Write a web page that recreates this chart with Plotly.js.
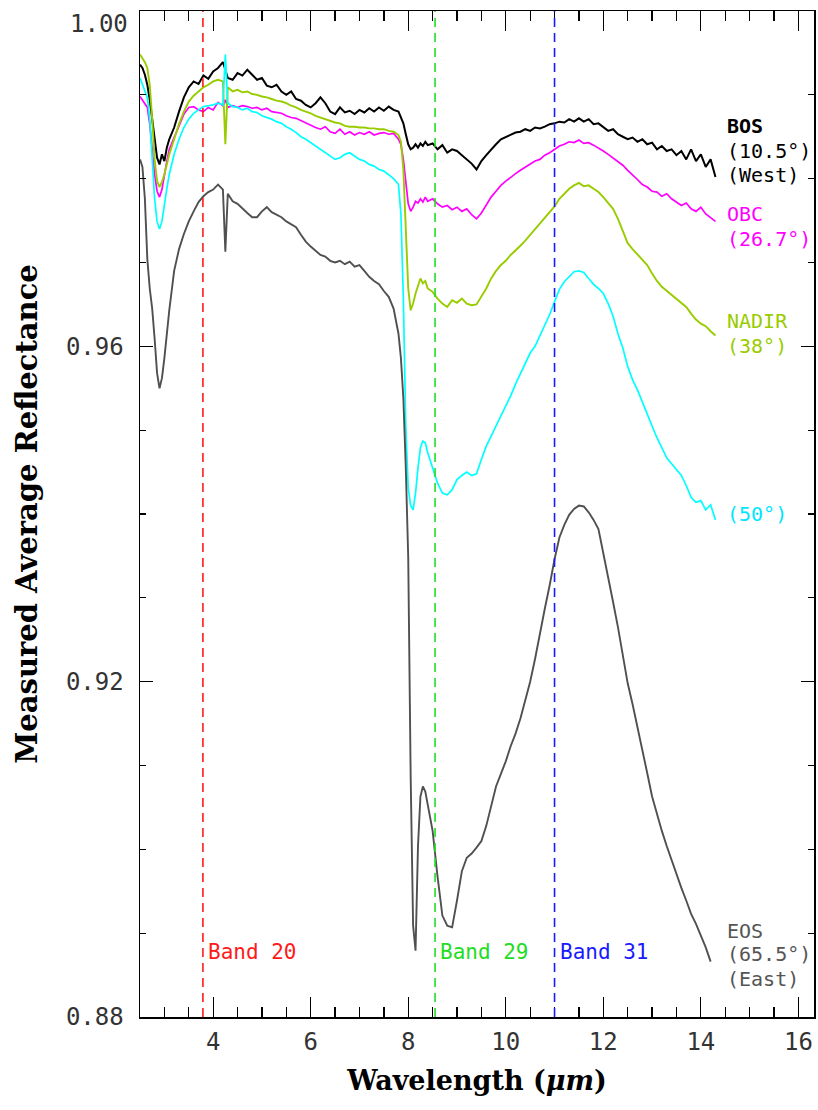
<!DOCTYPE html>
<html>
<head>
<meta charset="utf-8">
<script src="https://cdn.plot.ly/plotly-3.0.1.min.js"></script>
<style>html,body{margin:0;padding:0;background:#fff;}#chart{width:818px;height:1110px;}</style>
</head>
<body>
<div id="chart"></div>
<script>
// Wavelength grid (micrometres)
const wavelength = [2.50,2.55,2.60,2.65,2.70,2.75,2.80,2.85,2.90,2.95,3.00,3.05,3.10,
  3.2,3.3,3.4,3.5,3.6,3.7,3.8,3.9,4.0,4.1,4.2,4.25,4.3,4.4,4.5,4.6,4.7,4.8,4.9,5.0,
  5.1,5.2,5.3,5.4,5.5,5.6,5.7,5.8,5.9,6.0,6.1,6.2,6.3,6.4,6.5,6.6,6.7,6.8,6.9,7.0,
  7.1,7.2,7.3,7.4,7.5,7.6,7.7,7.8,
  7.85,7.90,7.95,8.00,8.05,8.10,8.15,8.20,8.25,8.30,8.35,8.40,
  8.5,8.6,8.7,8.8,8.9,9.0,9.1,9.2,9.3,9.4,9.5,9.6,9.7,9.8,9.9,10.0,10.1,10.2,10.3,10.4,
  10.5,10.6,10.7,10.8,10.9,11.0,11.1,11.2,11.3,11.4,11.5,11.6,11.7,11.8,11.9,12.0,12.1,12.2,12.3,12.4,
  12.5,12.6,12.7,12.8,12.9,13.0,13.1,13.2,13.3,13.4,13.5,13.6,13.7,13.8,13.9,14.0,14.1,14.2,14.3];

// BOS (10.5 deg, West)
const bos = [0.9936,0.9932,0.9924,0.9912,0.9894,0.9873,0.9847,0.9825,0.9817,0.9829,0.9821,0.9837,0.9847,
  0.9861,0.9880,0.9897,0.9909,0.9916,0.9913,0.9923,0.9919,0.9928,0.9932,0.9939,0.9930,
  0.9920,0.9918,0.9926,0.9923,0.9930,0.9924,0.9918,0.9920,0.9911,0.9909,0.9912,0.9904,0.9900,0.9904,0.9895,0.9893,
  0.9888,0.9885,0.9890,0.9897,0.9890,0.9880,0.9877,0.9885,0.9879,0.9881,0.9877,0.9882,0.9879,0.9884,0.9880,0.9885,
  0.9881,0.9886,0.9882,0.9880,
  0.9873,0.9866,0.9853,0.9841,0.9835,0.9837,0.9841,0.9837,0.9842,0.9839,0.9844,0.9840,
  0.9842,0.9835,0.9840,0.9831,0.9835,0.9833,0.9828,0.9823,0.9818,0.9811,
  0.9821,0.9828,0.9835,0.9841,0.9847,0.9850,0.9852,0.9855,0.9856,0.9859,
  0.9857,0.9861,0.9860,0.9862,0.9865,0.9866,0.9868,0.9867,0.9871,0.9868,
  0.9872,0.9868,0.9871,0.9865,0.9866,0.9861,0.9857,0.9859,0.9853,0.9850,
  0.9847,0.9849,0.9844,0.9847,0.9841,0.9843,0.9835,0.9839,0.9833,0.9835,
  0.9828,0.9833,0.9823,0.9835,0.9821,0.9829,0.9814,0.9823,0.9802];

// OBC (26.7 deg)
const obc = [0.9898,0.9894,0.9890,0.9885,0.9865,0.9835,0.9805,0.9785,0.9778,0.9787,0.9805,0.9821,0.9835,
  0.9849,0.9865,0.9877,0.9885,0.9886,0.9882,0.9880,0.9885,0.9882,0.9891,0.9887,0.9894,
  0.9885,0.9887,0.9885,0.9887,0.9886,0.9884,0.9885,0.9882,0.9884,0.9880,
  0.9879,0.9878,0.9875,0.9873,0.9872,0.9869,0.9866,0.9863,0.9861,0.9859,
  0.9862,0.9856,0.9854,0.9859,0.9853,0.9856,0.9852,0.9855,0.9853,0.9856,
  0.9852,0.9854,0.9855,0.9853,0.9854,0.9847,
  0.9841,0.9823,0.9793,0.9770,0.9761,0.9766,0.9773,0.9771,0.9776,0.9772,0.9778,0.9773,
  0.9776,0.9770,0.9766,0.9768,0.9763,0.9766,0.9761,0.9764,0.9757,0.9752,
  0.9759,0.9768,0.9778,0.9785,0.9792,0.9797,0.9802,0.9806,0.9810,0.9814,
  0.9817,0.9821,0.9823,0.9828,0.9831,0.9835,0.9839,0.9841,0.9844,0.9843,
  0.9846,0.9842,0.9843,0.9840,0.9837,0.9833,0.9829,0.9825,0.9820,0.9816,
  0.9810,0.9805,0.9799,0.9793,0.9790,0.9785,0.9784,0.9779,0.9782,0.9776,
  0.9772,0.9768,0.9771,0.9764,0.9761,0.9766,0.9758,0.9754,0.9749];

// NADIR (38 deg)
const nadir = [0.9948,0.9944,0.9939,0.9932,0.9912,0.9871,0.9823,0.9797,0.9790,0.9796,0.9805,0.9817,0.9829,
  0.9847,0.9865,0.9880,0.9892,0.9899,0.9904,0.9909,0.9912,0.9916,0.9918,0.9916,0.9841,
  0.9909,0.9904,0.9906,0.9903,0.9904,0.9901,0.9900,0.9898,0.9897,0.9895,
  0.9893,0.9892,0.9890,0.9887,0.9885,0.9882,0.9880,0.9878,0.9875,0.9873,
  0.9871,0.9869,0.9867,0.9866,0.9863,0.9862,0.9862,0.9861,0.9861,0.9860,
  0.9860,0.9859,0.9859,0.9857,0.9856,0.9852,
  0.9844,0.9811,0.9740,0.9669,0.9643,0.9651,0.9663,0.9671,0.9681,0.9675,0.9678,0.9669,
  0.9665,0.9657,0.9651,0.9647,0.9655,0.9652,0.9657,0.9651,0.9649,0.9650,
  0.9659,0.9669,0.9681,0.9690,0.9697,0.9702,0.9709,0.9714,0.9720,0.9726,
  0.9733,0.9740,0.9747,0.9754,0.9761,0.9767,0.9776,0.9782,0.9788,0.9792,
  0.9795,0.9791,0.9792,0.9788,0.9784,0.9778,0.9771,0.9764,0.9752,0.9738,
  0.9723,0.9716,0.9710,0.9704,0.9697,0.9687,0.9678,0.9671,0.9666,0.9662,
  0.9657,0.9652,0.9647,0.9639,0.9632,0.9627,0.9624,0.9618,0.9613];

// 50 deg
const deg50 = [0.9920,0.9912,0.9904,0.9897,0.9871,0.9823,0.9776,0.9749,0.9740,0.9749,0.9770,0.9788,0.9805,
  0.9829,0.9847,0.9861,0.9871,0.9878,0.9882,0.9886,0.9887,0.9888,0.9890,0.9888,0.9948,
  0.9890,0.9886,0.9885,0.9882,0.9884,0.9880,0.9879,0.9875,0.9873,0.9871,
  0.9868,0.9866,0.9862,0.9859,0.9855,0.9850,0.9847,0.9843,0.9839,0.9835,
  0.9831,0.9828,0.9823,0.9825,0.9829,0.9831,0.9827,0.9823,0.9821,0.9817,
  0.9815,0.9811,0.9809,0.9805,0.9800,0.9793,
  0.9758,0.9657,0.9503,0.9431,0.9410,0.9405,0.9425,0.9455,0.9479,0.9487,0.9485,0.9473,
  0.9455,0.9437,0.9425,0.9423,0.9429,0.9441,0.9446,0.9450,0.9446,0.9448,
  0.9465,0.9481,0.9493,0.9505,0.9517,0.9529,0.9541,0.9555,0.9568,0.9581,
  0.9592,0.9600,0.9612,0.9624,0.9638,0.9653,0.9668,0.9677,0.9683,0.9689,
  0.9690,0.9688,0.9681,0.9674,0.9669,0.9663,0.9651,0.9636,0.9615,0.9598,
  0.9576,0.9560,0.9548,0.9533,0.9520,0.9505,0.9491,0.9478,0.9467,0.9460,
  0.9453,0.9446,0.9434,0.9420,0.9414,0.9416,0.9405,0.9411,0.9393];

// EOS (65.5 deg, East)
const eos = [0.9823,0.9814,0.9776,0.9704,0.9669,0.9645,0.9609,0.9568,0.9550,0.9562,0.9586,0.9615,0.9643,
  0.9690,0.9716,0.9734,0.9749,0.9761,0.9772,0.9779,0.9784,0.9787,0.9793,0.9787,0.9713,
  0.9782,0.9773,0.9770,0.9764,0.9759,0.9754,0.9754,0.9761,0.9766,0.9760,
  0.9757,0.9754,0.9749,0.9746,0.9742,0.9733,0.9725,0.9719,0.9714,0.9709,
  0.9707,0.9702,0.9700,0.9702,0.9698,0.9701,0.9695,0.9697,0.9690,0.9683,
  0.9678,0.9674,0.9666,0.9659,0.9645,0.9615,
  0.9586,0.9538,0.9455,0.9348,0.9087,0.8909,0.8879,0.9004,0.9063,0.9075,0.9069,0.9052,
  0.9022,0.8968,0.8921,0.8909,0.8907,0.8939,0.8974,0.8990,0.8995,0.9002,
  0.9010,0.9028,0.9052,0.9075,0.9090,0.9105,0.9123,0.9138,0.9156,0.9179,
  0.9200,0.9227,0.9258,0.9287,0.9315,0.9346,0.9372,0.9387,0.9399,0.9406,
  0.9410,0.9409,0.9402,0.9393,0.9382,0.9354,0.9325,0.9295,0.9265,0.9230,
  0.9198,0.9173,0.9147,0.9117,0.9091,0.9063,0.9042,0.9022,0.9004,0.8987,
  0.8971,0.8954,0.8939,0.8923,0.8911,0.8897,0.8883,0.8866,null];

// MODIS band markers
const bandNames = ['Band 20','Band 29','Band 31'];
const bandWavelengths = [3.79, 8.55, 11.0];
const bandColors = ['#ff1a1a','#22dd22','#1a1aff'];

// Series labels
const seriesLabels = [
  {lines:['<b>BOS</b>','(10.5°)','(West)'], y:[0.9863,0.9833,0.9804], color:'#000000'},
  {lines:['OBC','(26.7°)'], y:[0.9758,0.9728], color:'#ff00ff'},
  {lines:['NADIR','(38°)'], y:[0.9630,0.9601], color:'#99cc00'},
  {lines:['(50°)'], y:[0.9400], color:'#00e5ff'},
  {lines:['EOS','(65.5°)','(East)'], y:[0.8902,0.8875,0.8845], color:'#555555'}
];

const series = [
  {y:bos, color:'#000000', w:2.0},
  {y:obc, color:'#ff00ff', w:1.7},
  {y:nadir, color:'#99cc00', w:1.9},
  {y:deg50, color:'#00ffff', w:1.7},
  {y:eos, color:'#505050', w:1.9}
];

const traces = series.map(s => ({
  x: wavelength, y: s.y, type:'scatter', mode:'lines',
  line:{color:s.color, width:s.w}, hoverinfo:'skip', showlegend:false
}));

const monoFont = 'DejaVu Sans Mono, monospace';
const annotations = [];
seriesLabels.forEach(lab => {
  lab.lines.forEach((t,i) => {
    annotations.push({x:14.5, y:lab.y[i], xref:'x', yref:'y', text:t, showarrow:false,
      xanchor:'left', yanchor:'middle', font:{family:monoFont, size:20, color:lab.color}});
  });
});
bandNames.forEach((n,i) => {
  annotations.push({x:bandWavelengths[i], y:0.8877, xref:'x', yref:'y', text:n, showarrow:false,
    xanchor:'left', yanchor:'middle', xshift:3, font:{family:monoFont, size:21, color:bandColors[i]}});
});
annotations.push({x:0, y:1, xref:'paper', yref:'paper', text:'1.00', showarrow:false,
  xanchor:'right', yanchor:'top', xshift:-10, yshift:3, font:{family:monoFont, size:24, color:'#333'}});

const shapes = bandWavelengths.map((b,i) => ({
  type:'line', xref:'x', yref:'y', x0:b, x1:b, y0:0.88, y1:1.0,
  line:{color:bandColors[i], width:1.6, dash:'9px,6px'}, layer:'above'
}));

const layout = {
  width:818, height:1110,
  margin:{l:140, r:4, t:11, b:93},
  paper_bgcolor:'#ffffff', plot_bgcolor:'#ffffff',
  showlegend:false,
  xaxis:{
    range:[2.5,16.32], tickmode:'linear', tick0:0, dtick:2,
    ticks:'inside', ticklen:20, tickwidth:1.3, tickcolor:'#000',
    minor:{dtick:0.5, tick0:0, ticks:'inside', ticklen:10, tickwidth:1.3, tickcolor:'#000', showgrid:false},
    showline:true, linecolor:'#000', linewidth:1.5, mirror:'ticks',
    showgrid:false, zeroline:false,
    tickfont:{family:monoFont, size:24, color:'#333'}, ticklabelstandoff:3,
    title:{text:'<b>Wavelength (<i>μm</i>)</b>', font:{family:'DejaVu Serif, serif', size:27, color:'#000'}, standoff:16}
  },
  yaxis:{
    range:[0.88,1.0], tickmode:'array', tickvals:[0.88,0.92,0.96,1.0], ticktext:['0.88','0.92','0.96',''],
    ticks:'inside', ticklen:13, tickwidth:1.3, tickcolor:'#000',
    minor:{dtick:0.01, tick0:0.88, ticks:'inside', ticklen:6, tickwidth:1.3, tickcolor:'#000', showgrid:false},
    showline:true, linecolor:'#000', linewidth:1.5, mirror:'ticks',
    showgrid:false, zeroline:false,
    tickfont:{family:monoFont, size:24, color:'#333'}, ticklabelstandoff:10,
    title:{text:'<b>Measured Average Reflectance</b>', font:{family:'DejaVu Serif, serif', size:29, color:'#000'}, standoff:20}
  },
  annotations:annotations,
  shapes:shapes
};

Plotly.newPlot('chart', traces, layout, {staticPlot:true, displayModeBar:false});
</script>
</body>
</html>
